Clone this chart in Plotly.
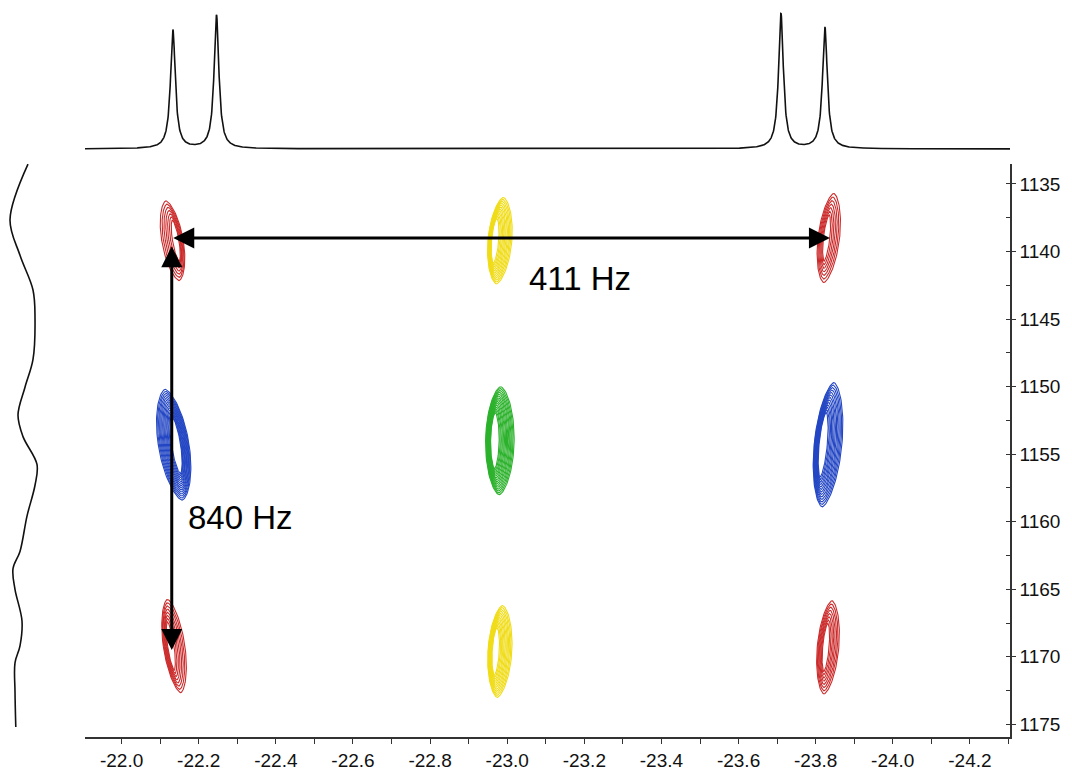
import numpy as np
import plotly.graph_objects as go

W, H = 1072, 771

# ---------------- data ----------------
# axis ticks
x_tick_vals = [-22.0, -22.2, -22.4, -22.6, -22.8, -23.0, -23.2, -23.4, -23.6, -23.8, -24.0, -24.2]
x_tick_text = ["-22.0", "-22.2", "-22.4", "-22.6", "-22.8", "-23.0", "-23.2", "-23.4",
               "-23.6", "-23.8", "-24.0", "-24.2"]
y_tick_vals = [1135, 1140, 1145, 1150, 1155, 1160, 1165, 1170, 1175]
x_range = [-21.905, -24.304]
y_range = [1175.95, 1133.5]

# 2D cross peaks (centre, outer half-width/half-height, tilt, nesting offset, colour, contour count)
pk_x = [-22.132, -22.981, -23.834, -22.135, -22.981, -23.832, -22.136, -22.981, -23.832]
pk_y = [1139.2, 1139.2, 1139.0, 1154.3, 1154.0, 1154.3, 1169.2, 1169.6, 1169.3]
pk_halfwidth = [0.028, 0.031, 0.028, 0.040, 0.037, 0.036, 0.028, 0.031, 0.028]
pk_halfheight = [2.95, 3.2, 3.3, 4.1, 4.0, 4.6, 3.45, 3.4, 3.45]
pk_tilt = [-0.0057, 0.0028, 0.0039, -0.0053, 0.0005, 0.0033, -0.0049, 0.0020, 0.0030]
pk_nest = [0.30, -0.40, -0.20, 0.15, -0.35, -0.35, -0.30, -0.35, -0.20]
pk_color = ["#cc2b2b", "#f0dc18", "#cc2b2b", "#2346c4", "#2cb22c", "#2346c4",
            "#cc2b2b", "#f0dc18", "#cc2b2b"]
pk_levels = [7, 12, 7, 14, 15, 13, 8, 12, 8]

# top 1D projection (F2)
top_pk_ppm = [-22.133, -22.246, -23.710, -23.824]
top_pk_height = [0.88, 0.99, 1.0, 0.90]
top_hwhm = 0.0075

# left 1D projection (F1), intensity
left_f1 = [1133.53, 1137.64, 1140.28, 1142.85, 1144.9, 1147.99, 1150.04, 1152.1, 1153.7,
           1155.76, 1157.3, 1159.58, 1162.2, 1163.47, 1165.0, 1167.35, 1169.19, 1170.44,
           1172.56, 1175.2]
left_int = [0.575, 0.125, 0.375, 0.70, 0.75, 0.70, 0.50, 0.325, 0.45, 0.80, 0.75, 0.55,
            0.375, 0.20, 0.25, 0.425, 0.375, 0.25, 0.25, 0.27]

# couplings (arrows) and labels
arrow_start = [(-22.130, 1139.0), (-22.130, 1139.5)]
arrow_end = [(-23.837, 1139.0), (-22.130, 1169.5)]
label_text = ["411 Hz", "840 Hz"]
label_x = [-23.189, -22.309]
label_y = [1142.0, 1159.7]

# ---------------- figure ----------------
fig = go.Figure()

FONT = "Liberation Sans, Arial, sans-serif"

# contour rings of each cross peak
theta = np.linspace(0, 2 * np.pi, 121)
ux = np.sign(np.cos(theta)) * np.abs(np.cos(theta)) ** 1.25
uy = np.sin(theta)
for i in range(len(pk_x)):
    wx, hy, tl, k = pk_halfwidth[i], pk_halfheight[i], pk_tilt[i], pk_nest[i]
    n = pk_levels[i]
    xs_all, ys_all = [], []
    for j in range(n):
        tt = j / (n - 1)
        fw = 1 - 0.70 * tt
        fh = 1 - 0.48 * tt
        cx = pk_x[i] - k * wx * tt
        yy = pk_y[i] + fh * hy * uy
        xx = cx + fw * wx * ux + tl * (yy - pk_y[i])
        xs_all += list(xx) + [None]
        ys_all += list(yy) + [None]
    fig.add_trace(go.Scatter(
        x=xs_all, y=ys_all, mode="lines",
        line=dict(color=pk_color[i], width=1.1),
        xaxis="x", yaxis="y", hoverinfo="skip", showlegend=False,
    ))

# top spectrum
xg = np.linspace(x_range[0], x_range[1], 3000)
spec = np.zeros_like(xg)
for p, h in zip(top_pk_ppm, top_pk_height):
    spec += h / (1 + ((xg - p) / top_hwhm) ** 2)
fig.add_trace(go.Scatter(x=xg, y=spec, mode="lines",
                         line=dict(color="#111111", width=1.6),
                         xaxis="x", yaxis="y2", hoverinfo="skip", showlegend=False))

# left projection
fig.add_trace(go.Scatter(x=left_int, y=left_f1, mode="lines",
                         line=dict(color="#111111", width=1.6, shape="spline", smoothing=1.0),
                         xaxis="x3", yaxis="y", hoverinfo="skip", showlegend=False))

annotations = []
for (sx, sy), (ex, ey) in zip(arrow_start, arrow_end):
    annotations.append(dict(
        x=ex, y=ey, ax=sx, ay=sy, xref="x", yref="y", axref="x", ayref="y",
        text="", showarrow=True, arrowhead=2, startarrowhead=2, arrowside="end+start",
        arrowwidth=3, arrowsize=1.4, startarrowsize=1.4, arrowcolor="#000000",
        standoff=0, startstandoff=0,
    ))
for t, lx, ly in zip(label_text, label_x, label_y):
    annotations.append(dict(x=lx, y=ly, xref="x", yref="y", text=t, showarrow=False,
                            font=dict(family=FONT, size=33, color="#000000"),
                            xanchor="center", yanchor="middle"))

x_dom = [85 / W, 1010 / W]
y_dom = [(H - 743) / H, (H - 165) / H]

fig.update_layout(
    width=W, height=H,
    margin=dict(l=0, r=0, t=0, b=0),
    paper_bgcolor="white", plot_bgcolor="white",
    showlegend=False,
    font=dict(family=FONT, size=19, color="#111111"),
    annotations=annotations,
    xaxis=dict(
        domain=x_dom, range=x_range, anchor="y",
        showgrid=False, zeroline=False, showline=True, linecolor="#333333", linewidth=1.5,
        ticks="outside", ticklen=5, tickwidth=1.3, tickcolor="#333333",
        tickvals=x_tick_vals, ticktext=x_tick_text,
        tickfont=dict(family=FONT, size=19, color="#111111"),
        minor=dict(dtick=0.1, tick0=-22.0, ticks="outside", ticklen=5, tickwidth=1.3,
                   tickcolor="#333333", showgrid=False),
    ),
    yaxis=dict(
        domain=y_dom, range=y_range, anchor="x", side="right",
        showgrid=False, zeroline=False, showline=True, linecolor="#333333", linewidth=1.5,
        ticks="outside", ticklen=4, tickwidth=1.3, tickcolor="#333333",
        tickvals=y_tick_vals,
        tickfont=dict(family=FONT, size=19, color="#111111"),
        minor=dict(dtick=2.5, tick0=1135, ticks="inside", ticklen=4, tickwidth=1.3,
                   tickcolor="#333333", showgrid=False),
    ),
    yaxis2=dict(
        domain=[(H - 157) / H, (H - 5) / H], range=[-0.051, 1.066], anchor="x",
        visible=False, showgrid=False, zeroline=False,
    ),
    xaxis3=dict(
        domain=[5 / W, 45 / W], range=[0, 1], anchor="y",
        visible=False, showgrid=False, zeroline=False,
    ),
)

fig.write_html("out.html")
